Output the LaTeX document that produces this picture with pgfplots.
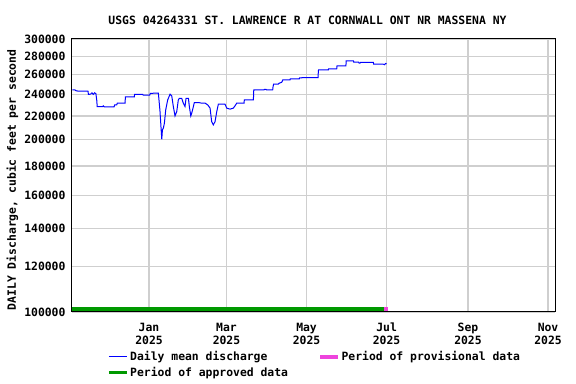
\documentclass[border=0pt]{standalone}
\usepackage{pgfplots}
\pgfplotsset{compat=1.18}
\usepackage{fontspec}
\setmainfont{DejaVu Sans Mono}
\newcommand\f{\fontsize{11.4bp}{13bp}\selectfont\bfseries}
\definecolor{usgsgreen}{RGB}{0,153,0}
\definecolor{usgspink}{RGB}{238,68,221}
\begin{document}
\begin{tikzpicture}
\useasboundingbox (-72bp,-72bp) rectangle (504bp,312bp);
\begin{axis}[
  scale only axis, width=483bp, height=273bp,
  at={(0,0)}, anchor=south west,
  xmin=-58.7, xmax=309.3,
  ymode=log, ymin=100000, ymax=300000,
  ytick={100000,120000,140000,160000,180000,200000,220000,240000,260000,280000,300000},
  yticklabels={100000,120000,140000,160000,180000,200000,220000,240000,260000,280000,300000},
  xtick={0,59,120,181,243,304},
  xticklabels={Jan\\2025,Mar\\2025,May\\2025,Jul\\2025,Sep\\2025,Nov\\2025},
  xticklabel style={align=center, font=\f, yshift=-7.5bp},
  yticklabel style={font=\f, xshift=-3bp},
  grid=major, major grid style={gray!38, line width=1.2bp},
  major tick length=0pt, minor tick length=0pt,
  axis line style={black, line width=1bp},
  title={USGS 04264331 ST. LAWRENCE R AT CORNWALL ONT NR MASSENA NY},
  title style={font=\f, at={(0.5,1)}, anchor=base, yshift=8bp, xshift=-6bp},
  ylabel={DAILY Discharge, cubic feet per second},
  ylabel style={font=\f, at={(axis description cs:-0.1232,0.484)}, anchor=center},
  legend columns=2,
  legend cell align=left,
  legend image code/.code={\draw[#1] (0bp,0bp) -- (18bp,0bp);},
  legend style={at={(axis description cs:0.0725,-0.139)}, anchor=north west,
    draw=none, fill=none, font=\f, inner sep=0pt, row sep=1.5bp,
    nodes={inner sep=1.5bp},
    /tikz/every even column/.append style={column sep=29bp}},
]
\addplot[blue, line width=1bp] coordinates {
(-58.5,244400) (-56.5,244400) (-55.5,243500) (-53.8,243200) (-46.5,243100)
(-46.2,240000) (-44.5,240300) (-43.5,241500) (-42.5,240000) (-41.5,241500)
(-40.5,240800) (-39.8,234000) (-39.5,228500) (-35.5,228500) (-34.8,229200)
(-34.2,228200) (-26.7,228200) (-26.2,230000) (-24.6,230100) (-24.2,231700)
(-18.3,231700) (-18.0,237600) (-11.2,237600) (-11.0,240000) (-4.8,240000)
(-4.5,239400) (0.5,239400) (1.0,241000) (4.6,241200) (7.1,241200)
(8.3,225000) (9.7,200400) (10.2,208100) (10.9,209500) (11.7,213800)
(12.7,225500) (14.2,234700) (16.0,240200) (17.3,238600) (18.5,228600)
(19.8,220100) (21.1,224000) (22.3,234700) (23.1,236300) (24.9,236300)
(26.1,231700) (27.4,228600) (28.2,236300) (30.0,236300) (30.7,228600)
(31.8,220100) (32.5,222500) (33.8,228600) (34.5,232300) (37.6,232300)
(40.1,231700) (42.7,231700) (44.7,230100) (46.5,227100) (47.7,215200)
(49.0,212300) (50.3,215200) (51.6,224000) (52.8,230700) (57.9,230700)
(59.2,227100) (61.7,226200) (64.2,227100) (65.5,229200) (66.8,231700)
(72.4,231700) (72.6,234700) (79.5,234700) (79.8,244400) (87.6,244400)
(88.0,245000) (89.1,245000) (89.3,244400) (94.2,244400) (94.5,247700)
(94.9,250100) (98.5,250100) (99.0,251000) (101.1,252000) (101.9,254400)
(107.4,254400) (107.6,255500) (114.5,255500) (114.7,256500) (116.3,256500)
(116.5,256800) (128.8,256800) (129.0,264200) (129.2,264900) (136.6,264900)
(136.8,266000) (143.0,266000) (143.2,269200) (150.0,269200) (150.2,274700)
(155.7,274700) (155.9,273400) (159.5,273400) (160.0,272300) (160.8,272300)
(161.0,273000) (170.9,273000) (171.1,271000) (178.5,271000) (179.5,270500)
(180.2,271800) (181.0,271500)
};
\addlegendentry{Daily mean discharge}
\addplot[usgspink, line width=3.5bp] coordinates {(178.9,101200) (182,101200)};
\addlegendentry{Period of provisional data}
\addplot[usgsgreen, line width=3.5bp] coordinates {(-58.7,101200) (178.9,101200)};
\addlegendentry{Period of approved data}
\end{axis}
\end{tikzpicture}
\end{document}
